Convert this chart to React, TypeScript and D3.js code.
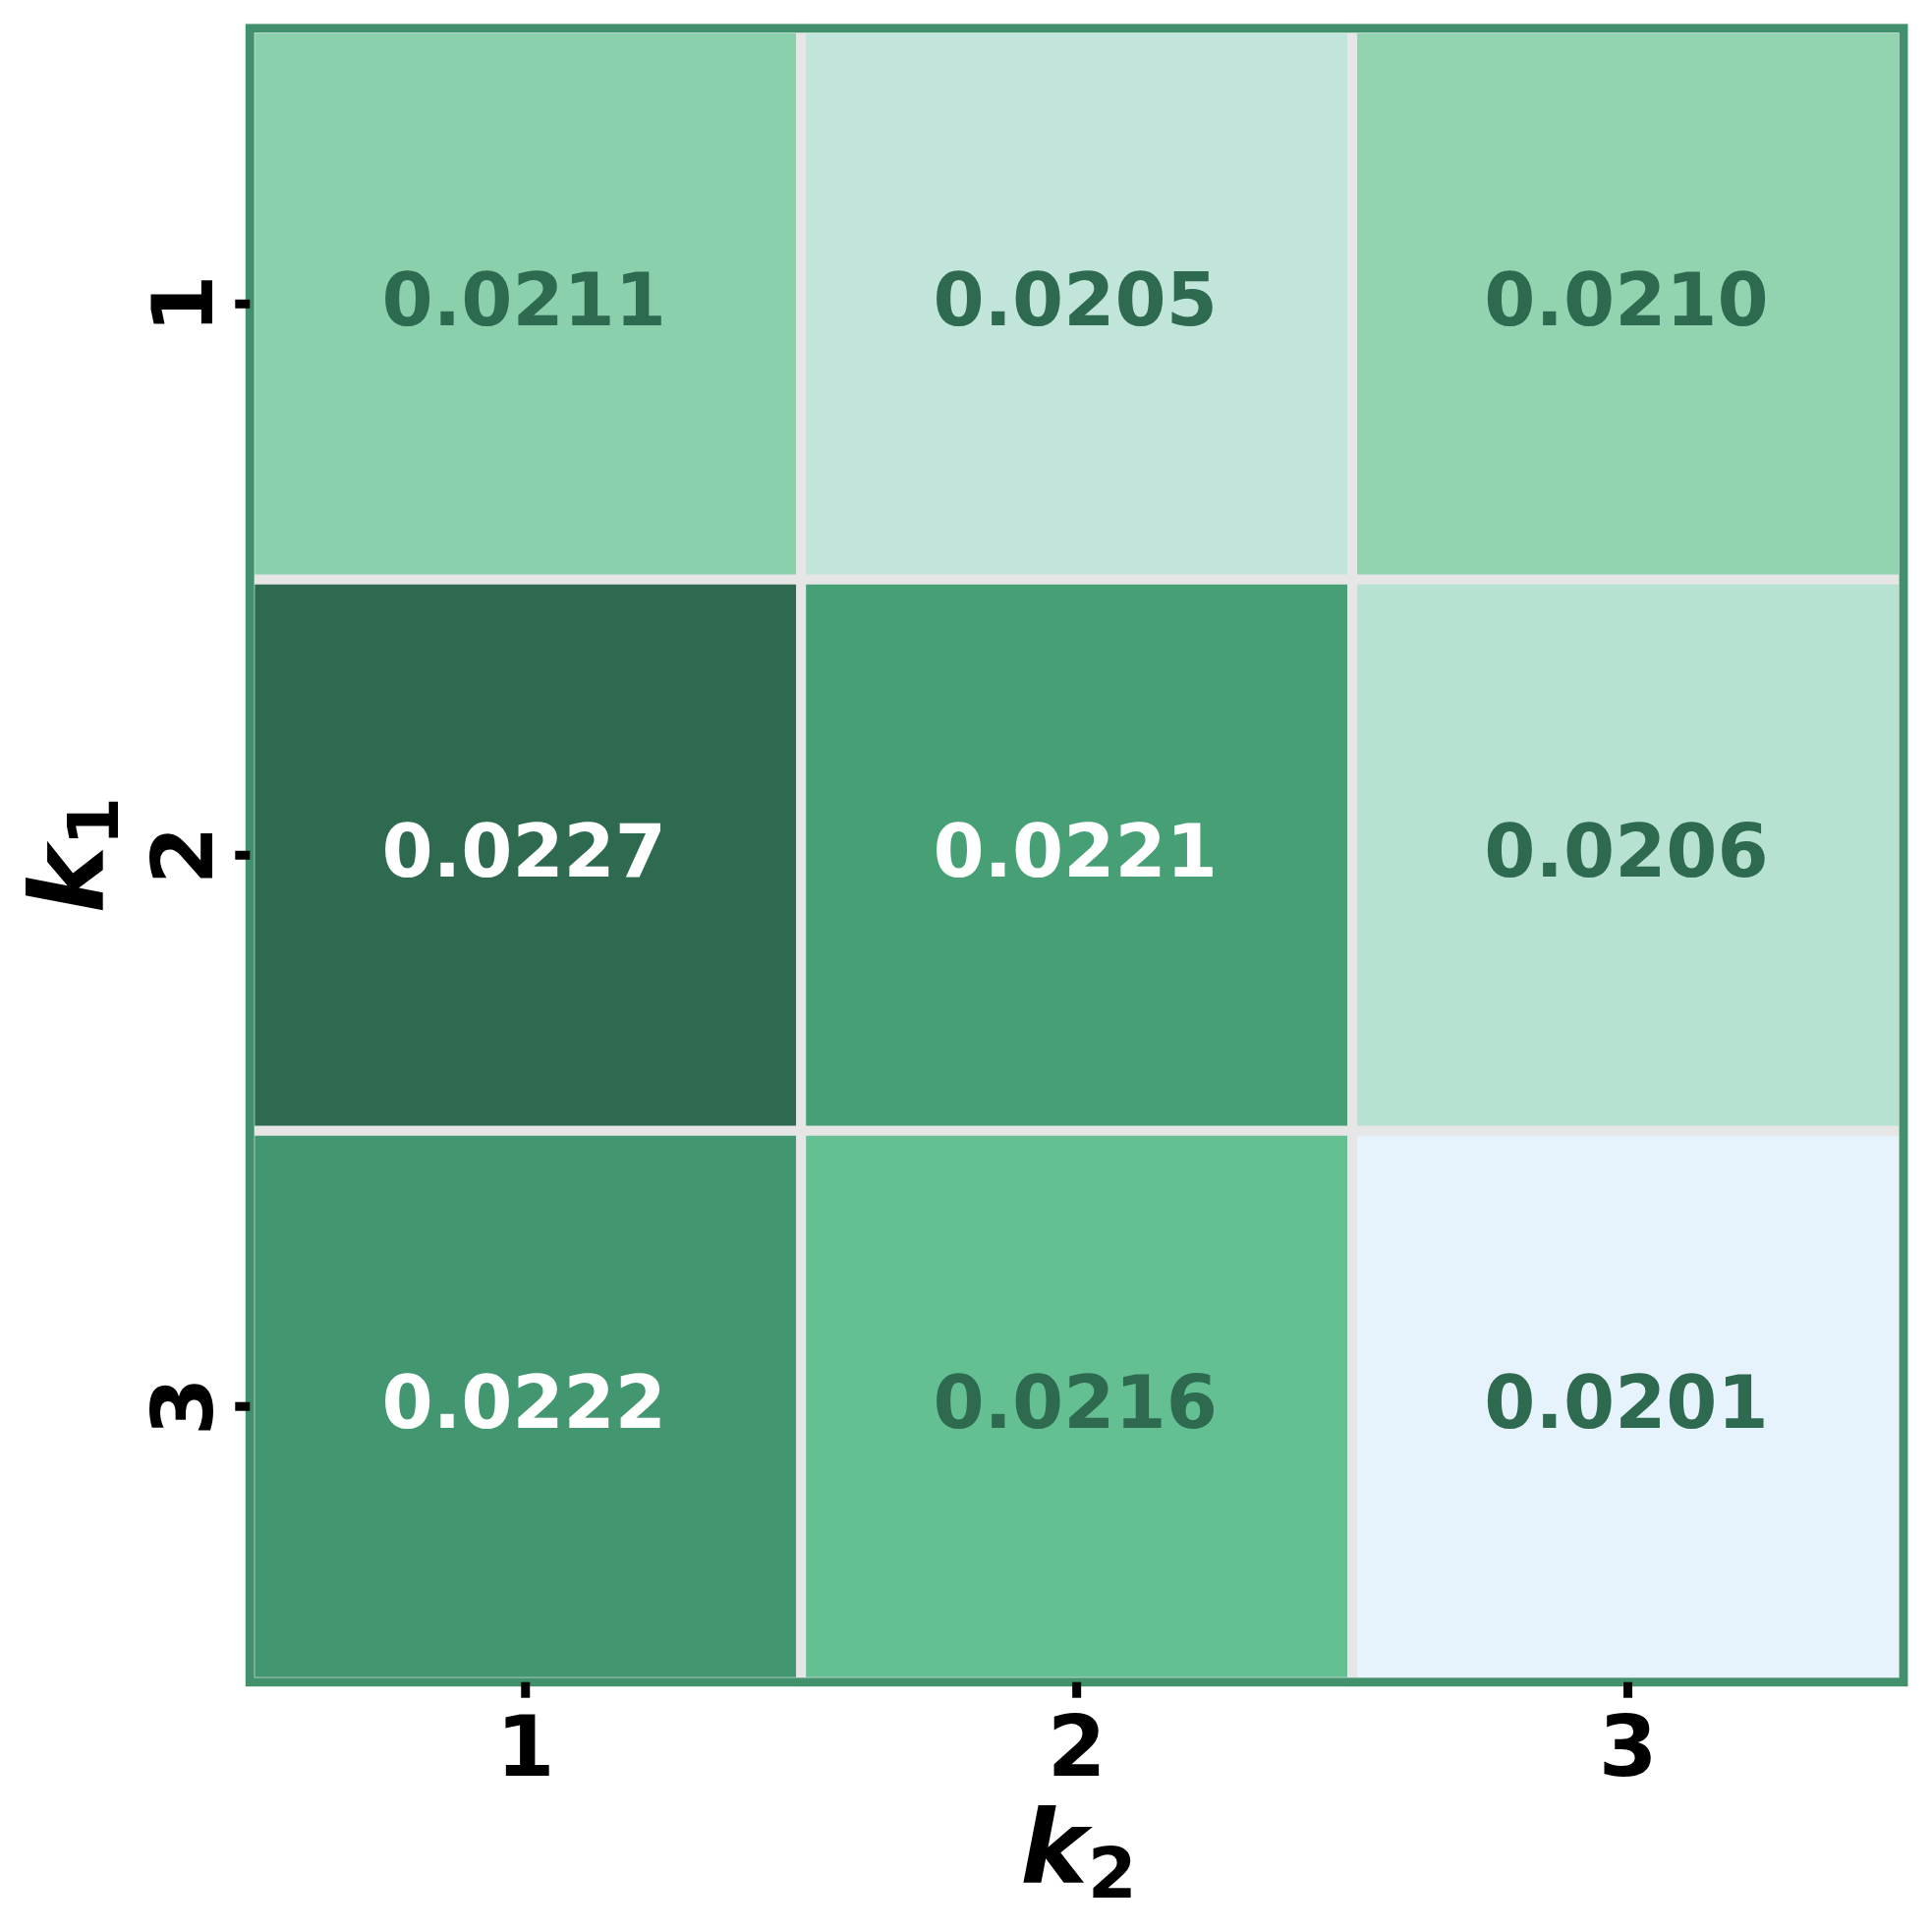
import { useEffect, useRef } from 'react'
import * as d3 from 'd3'

// rows = k1, columns = k2
const rowLabels = ['1', '2', '3']
const colLabels = ['1', '2', '3']
const values = [
  [0.0211, 0.0205, 0.021],
  [0.0227, 0.0221, 0.0206],
  [0.0222, 0.0216, 0.0201],
]
const cmapColors = ['#e6f3fc', '#95d5b2', '#52b788', '#2d6a4f']

const W = 1966
const H = 1966
const FONT = '"DejaVu Sans", sans-serif'

const App = () => {
  const svgRef = useRef<SVGSVGElement | null>(null)

  useEffect(() => {
    const svg = d3.select(svgRef.current)
    svg.selectAll('*').remove()

    const left = 254.3
    const right = 1937
    const top = 28.8
    const bottom = 1711.7

    const x = d3.scaleBand().domain(colLabels).range([left, right]).padding(0)
    const y = d3.scaleBand().domain(rowLabels).range([top, bottom]).padding(0)

    const flat = values.flat()
    const vmin = d3.min(flat) as number
    const vmax = d3.max(flat) as number
    const color = d3
      .scaleLinear<string>()
      .domain(d3.range(cmapColors.length).map((i) => vmin + ((vmax - vmin) * i) / (cmapColors.length - 1)))
      .range(cmapColors)
      .interpolate(d3.interpolateRgb)

    const cells = values.flatMap((row, i) =>
      row.map((v, j) => ({ r: rowLabels[i], c: colLabels[j], v })),
    )

    // heatmap cells with light grid lines
    svg
      .append('g')
      .selectAll('rect')
      .data(cells)
      .enter()
      .append('rect')
      .attr('x', (d) => x(d.c) as number)
      .attr('y', (d) => y(d.r) as number)
      .attr('width', x.bandwidth())
      .attr('height', y.bandwidth())
      .attr('fill', (d) => color(d.v))
      .attr('stroke', '#e6e6e6')
      .attr('stroke-width', 10)

    // spines
    svg
      .append('rect')
      .attr('x', left)
      .attr('y', top)
      .attr('width', right - left)
      .attr('height', bottom - top)
      .attr('fill', 'none')
      .attr('stroke', '#40916c')
      .attr('stroke-width', 8.7)

    // annotations
    svg
      .append('g')
      .selectAll('text')
      .data(cells)
      .enter()
      .append('text')
      .attr('x', (d) => (x(d.c) as number) + x.bandwidth() / 2 - 1.5)
      .attr('y', (d) => (y(d.r) as number) + y.bandwidth() / 2 + 22)
      .attr('text-anchor', 'middle')
      .attr('font-family', FONT)
      .attr('font-weight', 'bold')
      .attr('font-size', 75)
      .attr('fill', (d) => (d3.hsl(color(d.v)).l < 0.5 ? '#ffffff' : '#2d6a4f'))
      .text((d) => d.v.toFixed(4))

    // x axis
    const xAxis = svg
      .append('g')
      .attr('transform', `translate(0,${bottom})`)
      .call(d3.axisBottom(x).tickSize(16).tickSizeOuter(0))
    xAxis.select('.domain').remove()
    xAxis.selectAll('.tick line').attr('stroke', '#000').attr('stroke-width', 9)
    xAxis
      .selectAll('.tick text')
      .attr('y', 95.3)
      .attr('dy', null)
      .attr('fill', '#000')
      .attr('font-family', FONT)
      .attr('font-weight', 'bold')
      .attr('font-size', 86)

    // y axis
    const yAxis = svg
      .append('g')
      .attr('transform', `translate(${left},0)`)
      .call(d3.axisLeft(y).tickSize(15).tickSizeOuter(0))
    yAxis.select('.domain').remove()
    yAxis.selectAll('.tick line').attr('stroke', '#000').attr('stroke-width', 9)
    yAxis
      .selectAll('.tick text')
      .attr('x', null)
      .attr('dy', null)
      .attr('transform', 'translate(-38.3,0) rotate(-90)')
      .attr('text-anchor', 'middle')
      .attr('fill', '#000')
      .attr('font-family', FONT)
      .attr('font-weight', 'bold')
      .attr('font-size', 86)

    // axis labels
    const xl = svg
      .append('text')
      .attr('x', (left + right) / 2 + 2)
      .attr('y', 1916)
      .attr('text-anchor', 'middle')
      .attr('font-family', FONT)
      .attr('font-weight', 'bold')
      .attr('fill', '#000')
    xl.append('tspan').attr('font-size', 103).attr('font-style', 'italic').text('k')
    xl.append('tspan').attr('font-size', 72).attr('dy', 15).text('2')

    const yl = svg
      .append('text')
      .attr('transform', `translate(105,${(top + bottom) / 2}) rotate(-90)`)
      .attr('text-anchor', 'middle')
      .attr('font-family', FONT)
      .attr('font-weight', 'bold')
      .attr('fill', '#000')
    yl.append('tspan').attr('font-size', 103).attr('font-style', 'italic').text('k')
    yl.append('tspan').attr('font-size', 72).attr('dy', 15).text('1')
  }, [])

  return (
    <svg
      ref={svgRef}
      width={W}
      height={H}
      style={{ position: 'absolute', left: 0, top: 0, background: '#ffffff', display: 'block' }}
    ></svg>
  )
}

export default App
